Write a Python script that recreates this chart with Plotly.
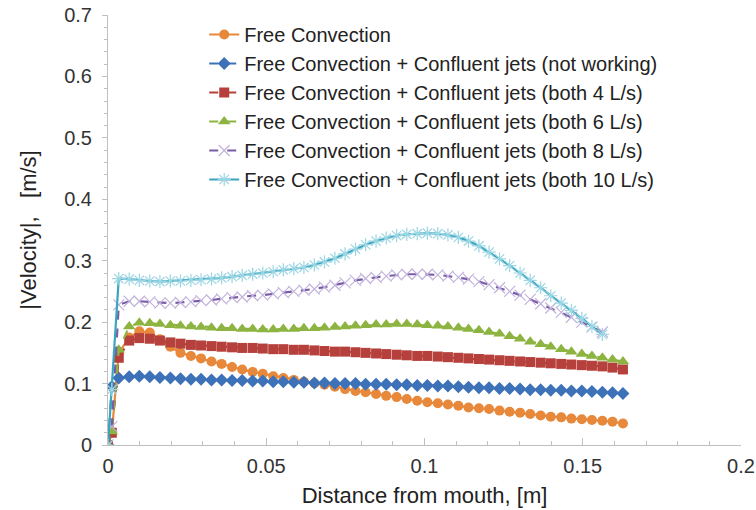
import plotly.graph_objects as go

x_all = [0, 0.0012, 0.0034, 0.0067, 0.0099, 0.0132, 0.0164, 0.0197, 0.0229, 0.0262,
         0.0294, 0.0327, 0.0359, 0.0392, 0.0424, 0.0457, 0.0489, 0.0522, 0.0554, 0.0587,
         0.0619, 0.0652, 0.0684, 0.0717, 0.0749, 0.0782, 0.0814, 0.0847, 0.0879, 0.0912,
         0.0944, 0.0977, 0.1009, 0.1042, 0.1074, 0.1107, 0.1139, 0.1172, 0.1204, 0.1237,
         0.1269, 0.1302, 0.1334, 0.1367, 0.1399, 0.1432, 0.1464, 0.1497, 0.1529, 0.1562,
         0.1594, 0.1627]

free_conv = [0, 0.02, 0.15, 0.175, 0.185, 0.183, 0.172, 0.16, 0.15, 0.145,
             0.141, 0.136, 0.132, 0.127, 0.123, 0.119, 0.116, 0.112, 0.109, 0.106,
             0.103, 0.1005, 0.098, 0.095, 0.091, 0.088, 0.086, 0.083, 0.080, 0.078,
             0.075, 0.072, 0.0695, 0.068, 0.066, 0.064, 0.061, 0.0597, 0.0586, 0.056,
             0.054, 0.0527, 0.0505, 0.048, 0.046, 0.045, 0.043, 0.042, 0.0407, 0.0396,
             0.038, 0.035]

not_working = [0, 0.095, 0.109, 0.111, 0.112, 0.111, 0.110, 0.109, 0.108, 0.107,
               0.107, 0.106, 0.106, 0.105, 0.105, 0.104, 0.104, 0.103, 0.103, 0.102,
               0.102, 0.101, 0.101, 0.100, 0.100, 0.100, 0.099, 0.099, 0.099, 0.098,
               0.098, 0.097, 0.097, 0.096, 0.096, 0.095, 0.094, 0.093, 0.093, 0.092,
               0.092, 0.091, 0.090, 0.090, 0.089, 0.089, 0.088, 0.088, 0.087, 0.086,
               0.085, 0.084]

both_4 = [0, 0.02, 0.142, 0.170, 0.174, 0.173, 0.170, 0.167, 0.165, 0.163,
          0.162, 0.161, 0.160, 0.159, 0.158, 0.158, 0.157, 0.156, 0.156, 0.155,
          0.155, 0.154, 0.153, 0.152, 0.152, 0.151, 0.150, 0.149, 0.148, 0.147,
          0.146, 0.145, 0.145, 0.144, 0.143, 0.142, 0.141, 0.140, 0.139, 0.138,
          0.137, 0.136, 0.135, 0.134, 0.133, 0.132, 0.131, 0.130, 0.129, 0.128,
          0.126, 0.123]

both_6 = [0, 0.022, 0.155, 0.193, 0.199, 0.198, 0.197, 0.195, 0.194, 0.193,
          0.192, 0.191, 0.190, 0.190, 0.189, 0.189, 0.188, 0.188, 0.189, 0.189,
          0.190, 0.190, 0.191, 0.192, 0.193, 0.194, 0.195, 0.196, 0.196, 0.197,
          0.197, 0.196, 0.195, 0.194, 0.193, 0.191, 0.189, 0.187, 0.184, 0.181,
          0.177, 0.173, 0.168, 0.164, 0.160, 0.156, 0.152, 0.148, 0.145, 0.142,
          0.139, 0.136]

both_8 = [0, 0.03, 0.228, 0.234, 0.234, 0.233, 0.231, 0.231, 0.232, 0.233,
          0.235, 0.236, 0.238, 0.240, 0.241, 0.243, 0.244, 0.246, 0.248, 0.250,
          0.252, 0.254, 0.257, 0.260, 0.264, 0.268, 0.271, 0.273, 0.275, 0.277,
          0.278, 0.278, 0.278, 0.277, 0.275, 0.273, 0.270, 0.266, 0.261, 0.256,
          0.250, 0.244, 0.237, 0.230, 0.223, 0.216, 0.208, 0.200, 0.192, 0.184]

both_10 = [0, 0.09, 0.271, 0.270, 0.268, 0.267, 0.266, 0.267, 0.267, 0.268,
           0.269, 0.270, 0.272, 0.274, 0.276, 0.278, 0.280, 0.282, 0.285, 0.287,
           0.289, 0.293, 0.298, 0.304, 0.311, 0.319, 0.326, 0.332, 0.337, 0.341,
           0.343, 0.344, 0.345, 0.344, 0.342, 0.338, 0.332, 0.324, 0.314, 0.303,
           0.292, 0.280, 0.268, 0.256, 0.243, 0.231, 0.219, 0.206, 0.193, 0.180]

names = ["Free Convection",
         "Free Convection + Confluent jets (not working)",
         "Free Convection + Confluent jets (both 4 L/s)",
         "Free Convection + Confluent jets (both 6 L/s)",
         "Free Convection + Confluent jets (both 8 L/s)",
         "Free Convection + Confluent jets (both 10 L/s)"]

series = [free_conv, not_working, both_4, both_6, both_8, both_10]

styles = [
    dict(line=dict(color="#E8883A", width=2.2, dash="solid"),
         marker=dict(symbol="circle", size=10, color="#E8883A")),
    dict(line=dict(color="#3D72B8", width=2.2, dash="dash"),
         marker=dict(symbol="diamond", size=10, color="#3D72B8")),
    dict(line=dict(color="#B5403C", width=2.2, dash="dash"),
         marker=dict(symbol="square", size=10, color="#B5403C")),
    dict(line=dict(color="#8DB440", width=2.2, dash="dash"),
         marker=dict(symbol="triangle-up", size=11, color="#8DB440")),
    dict(line=dict(color="#7A5CA6", width=2.2, dash="dash"),
         marker=dict(symbol="x-thin-open", size=11, color="#C2B3DC",
                     line=dict(width=1.2, color="#C2B3DC"))),
    dict(line=dict(color="#3AA5BF", width=2.2, dash="solid"),
         marker=dict(symbol="asterisk-open", size=11, color="#9AD6E4",
                     line=dict(width=1.2, color="#9AD6E4"))),
]

fig = go.Figure()
for nm, ys, st in zip(names, series, styles):
    fig.add_trace(go.Scatter(
        x=x_all[:len(ys)], y=ys, name=nm, mode="lines+markers",
        line=st["line"], marker=st["marker"]))

FONT = "Liberation Sans, Arial, sans-serif"
fig.update_layout(
    width=756, height=510,
    margin=dict(l=108, r=15, t=15, b=65),
    paper_bgcolor="white", plot_bgcolor="white",
    font=dict(family=FONT, size=20, color="#222222"),
    showlegend=True,
    legend=dict(x=0.152, y=1.0, xanchor="left", yanchor="top",
                bgcolor="rgba(0,0,0,0)", font=dict(size=20, color="#222222"),
                itemwidth=30),
    xaxis=dict(range=[0, 0.2], tickvals=[0, 0.05, 0.1, 0.15, 0.2],
               ticktext=["0", "0.05", "0.1", "0.15", "0.2"], automargin=False,
               ticklabelstandoff=3,
               showgrid=False, zeroline=False, showline=True, linecolor="#BFBFBF",
               linewidth=1, ticks="inside", ticklen=7, tickcolor="#BFBFBF",
               minor=dict(dtick=0.01, ticks="inside", ticklen=4, tickcolor="#BFBFBF"),
               tickfont=dict(size=20, color="#333333"),
               title=dict(text="Distance from mouth, [m]", font=dict(size=22, color="#222222"),
                          standoff=11)),
    yaxis=dict(range=[0, 0.7], tickvals=[0, 0.1, 0.2, 0.3, 0.4, 0.5, 0.6, 0.7],
               ticktext=["0", "0.1", "0.2", "0.3", "0.4", "0.5", "0.6", "0.7"],
               automargin=False, ticklabelstandoff=6,
               showgrid=False, zeroline=False, showline=True, linecolor="#BFBFBF",
               linewidth=1, ticks="outside", ticklen=5, tickcolor="#BFBFBF",
               minor=dict(dtick=0.02, ticks="outside", ticklen=3, tickcolor="#BFBFBF"),
               tickfont=dict(size=20, color="#333333"),
               title=dict(text="|Velocity|,\u00a0\u00a0\u00a0[m/s]",
                          font=dict(size=22, color="#222222"), standoff=21)),
)

fig.write_html("out.html",
               config={"displayModeBar": False},
               post_script="document.documentElement.style.margin='0';"
                           "document.body.style.margin='0';"
                           "document.body.style.overflow='hidden';")
